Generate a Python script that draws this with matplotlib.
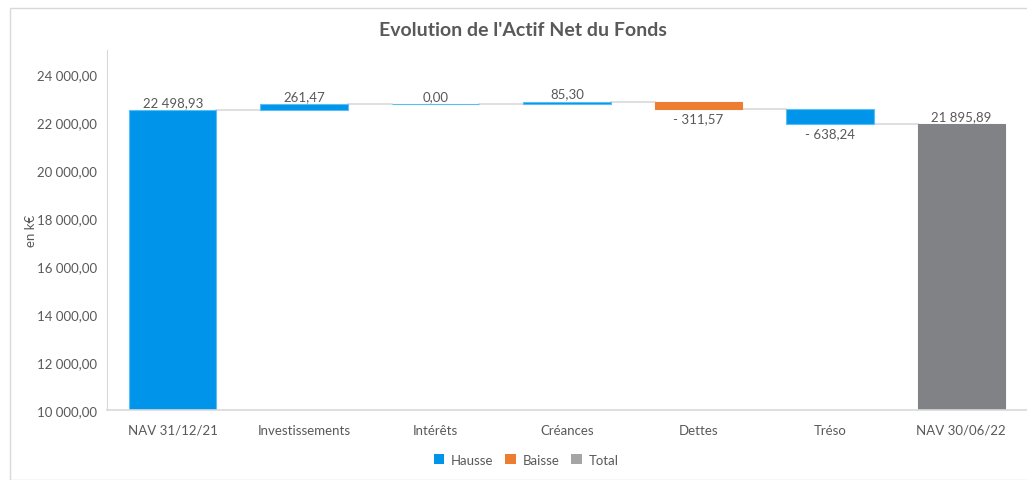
import matplotlib
matplotlib.use("Agg")
import matplotlib.pyplot as plt
from matplotlib.patches import Rectangle, Patch
import numpy as np

plt.rcParams['font.family'] = ['Lato', 'DejaVu Sans']

categories = ["NAV 31/12/21", "Investissements", "Intérêts", "Créances", "Dettes", "Tréso", "NAV 30/06/22"]
changes = [22498.93, 261.47, 0.00, 85.30, -311.57, -638.24, 21895.89]
kinds = ["Hausse", "Hausse", "Hausse", "Hausse", "Baisse", "Hausse", "Total"]
legend_labels = ["Hausse", "Baisse", "Total"]
yticks = [10000, 12000, 14000, 16000, 18000, 20000, 22000, 24000]

BLUE = "#0095EA"
BLUE_EDGE = "#5BBDF5"
ORANGE = "#ED7D31"
GRAY_BAR = "#808285"
GRAY_LEG = "#A5A5A5"
TXT = "#595959"
LINE = "#D9D9D9"

colors = {"Hausse": BLUE, "Baisse": ORANGE, "Total": GRAY_BAR}
edges = {"Hausse": BLUE_EDGE, "Baisse": ORANGE, "Total": GRAY_BAR}

def fr(v):
    s = f"{abs(v):,.2f}".replace(",", " ").replace(".", ",")
    return ("- " + s) if v < 0 else s

fig = plt.figure(figsize=(10.27, 4.81), dpi=100)
# outer chart border
fig.patches.append(Rectangle((10/1027, 0), 1.2, (481-9)/481, transform=fig.transFigure,
                             fill=False, edgecolor=LINE, linewidth=1.0))
ax = fig.add_axes([107/1027, 70/481, 920/1027, 360/481])
ax.set_ylim(10000, 25000)
ax.set_xlim(-0.5, len(categories) - 0.5)

width = 0.665
level = 0.0
tops = []
for i, (c, v, k) in enumerate(zip(categories, changes, kinds)):
    if k == "Total" or i == 0:
        bottom, height = 0.0, v
        level = v
        top, low = v, v
    else:
        bottom, height = level, v
        top = max(level, level + v)
        low = min(level, level + v)
        level = level + v
    ax.bar(i, height, bottom=bottom, width=width, color=colors[k],
           edgecolor=edges[k], linewidth=0.8, zorder=3, clip_on=True)
    if v >= 0:
        ax.annotate(fr(v), (i, top), xytext=(0, 1.5), textcoords="offset points",
                    ha="center", va="bottom", fontsize=9.5, color=TXT)
    else:
        ax.annotate(fr(v), (i, low), xytext=(0, -2), textcoords="offset points",
                    ha="center", va="top", fontsize=9.5, color=TXT)
    tops.append(level)

# connectors
for i in range(len(categories) - 1):
    ax.plot([i + width/2, i + 1 - width/2], [tops[i], tops[i]], color=LINE,
            linewidth=1.2, zorder=2)

ax.set_yticks(yticks)
ax.set_yticklabels([fr(t) for t in yticks], fontsize=9.5, color=TXT)
ax.set_xticks(range(len(categories)))
ax.set_xticklabels(categories, fontsize=9.5, color=TXT)
ax.tick_params(axis="both", length=0)
ax.tick_params(axis="y", pad=7)
ax.tick_params(axis="x", pad=10)
for s in ["top", "right"]:
    ax.spines[s].set_visible(False)
ax.spines["left"].set_color(LINE)
ax.spines["bottom"].set_color(LINE)
ax.spines["bottom"].set_linewidth(1.2)
ax.spines["bottom"].set_zorder(4)

ax.set_ylabel("en k€", fontsize=9.5, color=TXT)
ax.yaxis.set_label_coords(-70/920, 0.5)

fig.text(523/1027, 1 - 31/481, "Evolution de l'Actif Net du Fonds", ha="center",
         va="center", fontsize=14, fontweight="bold", color=TXT)

handles = [Patch(facecolor=BLUE), Patch(facecolor=ORANGE), Patch(facecolor=GRAY_LEG)]
fig.legend(handles, legend_labels, loc="center", bbox_to_anchor=(526/1027, 1 - 461/481),
           ncol=3, frameon=False, fontsize=9.5, handlelength=0.8, handleheight=0.8,
           handletextpad=0.5, columnspacing=0.9, labelcolor=TXT)

fig.savefig("out.png", dpi=100)
